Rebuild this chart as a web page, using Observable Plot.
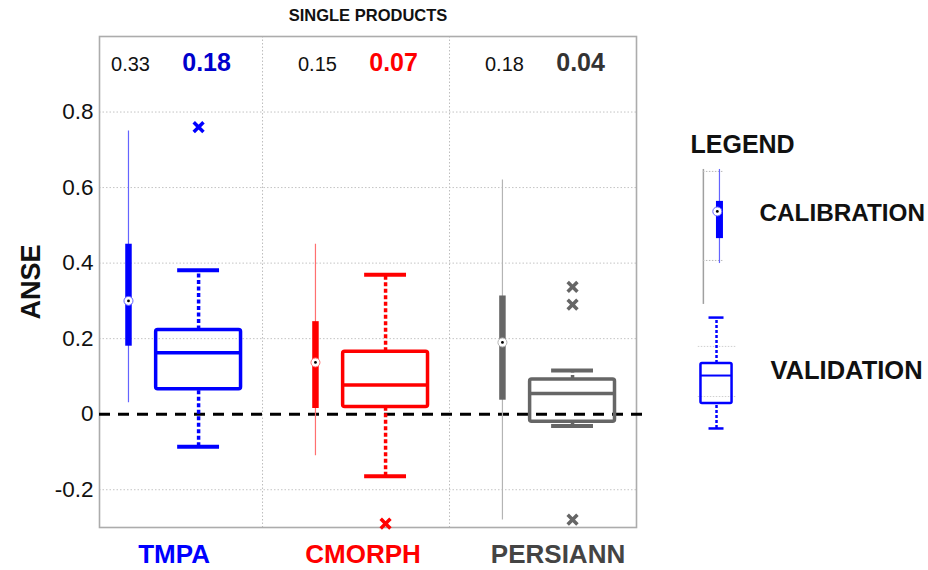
<!DOCTYPE html>
<html>
<head>
<meta charset="utf-8">
<script src="https://cdn.jsdelivr.net/npm/d3@7"></script>
<script src="https://cdn.jsdelivr.net/npm/@observablehq/plot@0.6"></script>
<style>
  html, body { margin: 0; padding: 0; background: #fff; }
  #chart { display: flex; width: 928px; height: 570px; }
</style>
</head>
<body>
<div id="chart"></div>
<script>
// Products compared and their colours
const products = ["TMPA", "CMORPH", "PERSIANN"];
const productColors = ["#0000ff", "#ff0000", "#666666"];
const whiskerColors = ["#6464ff", "#ff7070", "#b4b4b4"];
const nameColors = ["#0000ff", "#ff0000", "#444444"];

// Scores printed at the top of each panel (calibration, validation)
const calScore = [0.33, 0.15, 0.18];
const valScore = [0.18, 0.07, 0.04];
const valScoreColors = ["#0000cc", "#ff0000", "#333333"];

// Calibration period: ANSE distribution
const calMin = [0.03, -0.11, -0.28];
const calQ1 = [0.18, 0.015, 0.037];
const calMedian = [0.30, 0.137, 0.19];
const calQ3 = [0.45, 0.245, 0.313];
const calMax = [0.75, 0.45, 0.62];

// Validation period: ANSE box plots
const valLow = [-0.086, -0.164, -0.031];
const valQ1 = [0.066, 0.019, -0.02];
const valMedian = [0.163, 0.077, 0.055];
const valQ3 = [0.223, 0.165, 0.092];
const valHigh = [0.381, 0.369, 0.116];

// Validation outliers
const outlierProduct = ["TMPA", "CMORPH", "PERSIANN", "PERSIANN", "PERSIANN"];
const outlierValue = [0.76, -0.29, 0.337, 0.29, -0.279];

const yTicks = [-0.2, 0, 0.2, 0.4, 0.6, 0.8];

// Legend sample glyphs (values on the legend's own 0..1 scale)
const legendCalRange = [0.486, 0.968];
const legendCal = {lo: 0.632, q1: 0.721, med: 0.818, q3: 0.854, hi: 0.968};
const legendCalStubs = [0.961, 0.643];
const legendVal = {lo: 0.043, q1: 0.132, med: 0.232, q3: 0.275, hi: 0.439};
const legendValStubs = [0.336, 0.157];

// Layout of the positions within each product panel
const CAL_OFFSET = -0.217;
const VAL_OFFSET = 0.158;
const BOX_HALF = 0.227;
const CAP_HALF = 0.112;
const X_DOMAIN = [0.628, products.length + 0.5];
const NAME_SHIFT = [5, 7, 15]; // horizontal nudge (px) of the product names

const groups = products.map((p, i) => ({
  product: p,
  idx: i + 1,
  calX: i + 1 + CAL_OFFSET,
  valX: i + 1 + VAL_OFFSET,
  color: productColors[i],
  thin: whiskerColors[i],
  nameColor: nameColors[i],
  calScore: calScore[i],
  valScore: valScore[i],
  valScoreColor: valScoreColors[i],
  calMin: calMin[i], calQ1: calQ1[i], calMedian: calMedian[i], calQ3: calQ3[i], calMax: calMax[i],
  valLow: valLow[i], valQ1: valQ1[i], valMedian: valMedian[i], valQ3: valQ3[i], valHigh: valHigh[i]
}));

const outliers = outlierProduct.map((p, k) => {
  const i = products.indexOf(p);
  return {x: i + 1 + VAL_OFFSET, y: outlierValue[k], color: productColors[i]};
});

const separators = d3.range(1.5, products.length, 1);
const FONT = "'Liberation Sans', Arial, Helvetica, sans-serif";

const main = Plot.plot({
  width: 660,
  height: 570,
  marginLeft: 99,
  marginRight: 24,
  marginTop: 36,
  marginBottom: 43,
  style: {fontFamily: FONT, background: "white", overflow: "visible"},
  x: {domain: X_DOMAIN, axis: null},
  y: {domain: [-0.3, 1.0], axis: null},
  color: {type: "identity"},
  marks: [
    // dotted grid
    Plot.ruleY(yTicks.filter(t => t !== 0), {stroke: "#c4c4c4", strokeWidth: 1, strokeDasharray: "1.5,2"}),
    Plot.ruleX(separators, {stroke: "#bdbdbd", strokeWidth: 1, strokeDasharray: "1.5,2"}),
    Plot.frame({stroke: "#acacac", strokeWidth: 1.6}),
    // zero reference
    Plot.ruleY([0], {x1: X_DOMAIN[0], x2: X_DOMAIN[1] + 0.05, stroke: "#000", strokeWidth: 3, strokeDasharray: "11,8"}),

    // calibration: full range, interquartile bar, median marker
    Plot.ruleX(groups, {x: "calX", y1: "calMin", y2: "calMax", stroke: "thin", strokeWidth: 1.2}),
    Plot.ruleX(groups, {x: "calX", y1: "calQ1", y2: "calQ3", stroke: "color", strokeWidth: 6.5}),
    Plot.dot(groups, {x: "calX", y: "calMedian", r: 4.5, fill: "white", stroke: "thin", strokeWidth: 1}),
    Plot.dot(groups, {x: "calX", y: "calMedian", r: 1.4, fill: "black"}),

    // validation: whiskers, caps, box, median
    Plot.ruleX(groups, {x: "valX", y1: "valQ3", y2: "valHigh", stroke: "color", strokeWidth: 3.5, strokeDasharray: "4,2.5"}),
    Plot.ruleX(groups, {x: "valX", y1: "valLow", y2: "valQ1", stroke: "color", strokeWidth: 3.5, strokeDasharray: "4,2.5"}),
    Plot.ruleY(groups, {y: "valHigh", x1: d => d.valX - CAP_HALF, x2: d => d.valX + CAP_HALF, stroke: "color", strokeWidth: 4}),
    Plot.ruleY(groups, {y: "valLow", x1: d => d.valX - CAP_HALF, x2: d => d.valX + CAP_HALF, stroke: "color", strokeWidth: 4}),
    Plot.rect(groups, {x1: d => d.valX - BOX_HALF, x2: d => d.valX + BOX_HALF, y1: "valQ1", y2: "valQ3", fill: "none", stroke: "color", strokeWidth: 3.5, rx: 2}),
    Plot.ruleY(groups, {y: "valMedian", x1: d => d.valX - BOX_HALF, x2: d => d.valX + BOX_HALF, stroke: "color", strokeWidth: 3.5}),
    Plot.dot(outliers, {x: "x", y: "y", symbol: "times", r: 4.5, stroke: "color", strokeWidth: 3.5}),

    // scores at the top of each panel
    Plot.text(groups, {x: "calX", text: d => d.calScore.toFixed(2), frameAnchor: "top", lineAnchor: "middle", dx: 2, dy: 28, fontSize: 20, fill: "#111"}),
    Plot.text(groups, {x: "valX", text: d => d.valScore.toFixed(2), frameAnchor: "top", lineAnchor: "middle", dx: 8, dy: 26, fontSize: 25, fontWeight: "bold", fill: "valScoreColor"}),

    // product names
    ...groups.map((g, i) => Plot.text([g], {x: "idx", text: "product", frameAnchor: "bottom", lineAnchor: "middle", dx: NAME_SHIFT[i], dy: 27, fontSize: 26, fontWeight: "bold", fill: "nameColor"})),

    // y axis
    Plot.axisY(yTicks, {tickSize: 0, tickPadding: 6, fontSize: 22.5, fill: "#111", tickFormat: d => String(d), label: null}),
    Plot.text(["ANSE"], {frameAnchor: "left", textAnchor: "middle", lineAnchor: "middle", dx: -68, rotate: -90, fontSize: 27, fontWeight: "bold", fill: "#111"}),
    Plot.text(["SINGLE PRODUCTS"], {frameAnchor: "top", lineAnchor: "middle", dy: -21, fontSize: 16.5, fontWeight: "bold", fill: "#111"})
  ]
});

// Legend panel with sample glyphs
const LX = {gray: 0.160, cal: 0.220, val: 0.209, boxHalf: 0.058, capHalf: 0.028};
const legend = Plot.plot({
  width: 268,
  height: 570,
  marginLeft: 0,
  marginRight: 0,
  marginTop: 160,
  marginBottom: 130,
  style: {fontFamily: FONT, background: "white", overflow: "visible"},
  x: {domain: [0, 1], axis: null},
  y: {domain: [0, 1], axis: null},
  marks: [
    Plot.ruleX([LX.gray], {y1: legendCalRange[0], y2: legendCalRange[1], stroke: "#a0a0a0", strokeWidth: 1.5}),
    Plot.ruleY(legendCalStubs, {x1: LX.gray, x2: LX.cal + 0.015, stroke: "#b8b8b8", strokeDasharray: "1.5,1.5"}),
    Plot.ruleX([LX.cal], {y1: legendCal.lo, y2: legendCal.hi, stroke: "#6464ff", strokeWidth: 1.2}),
    Plot.ruleX([LX.cal], {y1: legendCal.q1, y2: legendCal.q3, stroke: "#0000ff", strokeWidth: 7}),
    Plot.dot([legendCal.med], {x: LX.cal - 0.008, y: d => d, r: 4.5, fill: "white", stroke: "#6464ff", strokeWidth: 1}),
    Plot.dot([legendCal.med], {x: LX.cal - 0.008, y: d => d, r: 1.4, fill: "black"}),

    Plot.ruleY(legendValStubs, {x1: LX.val - 0.068, x2: LX.val + 0.072, stroke: "#cfcfcf", strokeDasharray: "1.5,1.5"}),
    Plot.ruleX([LX.val], {y1: legendVal.q3, y2: legendVal.hi, stroke: "#0000ff", strokeWidth: 2.5, strokeDasharray: "3,2"}),
    Plot.ruleX([LX.val], {y1: legendVal.lo, y2: legendVal.q1, stroke: "#0000ff", strokeWidth: 2.5, strokeDasharray: "3,2"}),
    Plot.ruleY([legendVal.hi, legendVal.lo], {x1: LX.val - LX.capHalf, x2: LX.val + LX.capHalf, stroke: "#0000ff", strokeWidth: 2.5}),
    Plot.rect([legendVal], {x1: LX.val - LX.boxHalf, x2: LX.val + LX.boxHalf, y1: "q1", y2: "q3", fill: "none", stroke: "#0000ff", strokeWidth: 2.5, rx: 1.5}),
    Plot.ruleY([legendVal.med], {x1: LX.val - LX.boxHalf, x2: LX.val + LX.boxHalf, stroke: "#0000ff", strokeWidth: 2}),

    Plot.text(["LEGEND"], {frameAnchor: "top-left", lineAnchor: "middle", dx: 30, dy: -16, textAnchor: "start", fontSize: 25, fontWeight: "bold", fill: "#111"}),
    Plot.text(["CALIBRATION"], {frameAnchor: "top-left", lineAnchor: "middle", dx: 99, dy: 53, textAnchor: "start", fontSize: 24.3, fontWeight: "bold", fill: "#111"}),
    Plot.text(["VALIDATION"], {frameAnchor: "top-left", lineAnchor: "middle", dx: 110, dy: 210, textAnchor: "start", fontSize: 25.5, fontWeight: "bold", fill: "#111"})
  ]
});

const chart = document.getElementById("chart");
chart.append(main, legend);
</script>
</body>
</html>
